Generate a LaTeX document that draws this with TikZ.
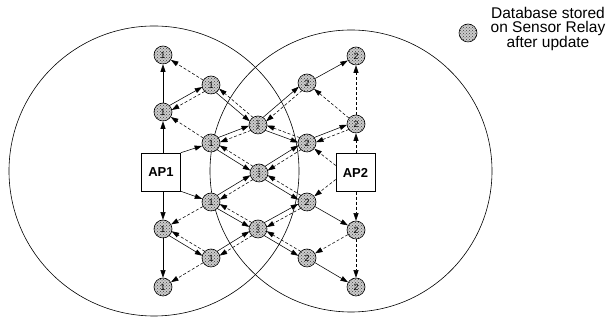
\documentclass[tikz,border=0pt]{standalone}
\usepackage{fontspec}
\setmainfont{Liberation Sans}
\usetikzlibrary{arrows.meta,calc,patterns,backgrounds}

\tikzset{
  relay/.style={circle,draw,line width=0.6pt,minimum size=18pt,inner sep=0pt,
    preaction={fill=gray!40},pattern=crosshatch dots,pattern color=black!75,
    font=\fontsize{9}{9}\selectfont},
  both/.style={relay,align=center,font=\fontsize{6}{5.5}\selectfont},
  ap/.style={draw,fill=white,line width=0.5pt,minimum width=39pt,minimum height=38pt,
    inner sep=0pt,font=\fontsize{13}{13}\selectfont\bfseries},
  fwd/.style={-{Triangle[length=7.5pt,width=5pt]},line width=0.55pt},
  bwd/.style={fwd,dash pattern=on 3pt off 2pt},
  cell/.style={line width=0.6pt}
}

% solid arrow #1->#2 and dashed arrow back, side by side
\newcommand{\twoway}[3]{%
  \draw[fwd,shorten <=8.6pt,shorten >=8.6pt] ($(#1)!2.5pt!#3:(#2)$) -- ($(#2)!2.5pt!-#3:(#1)$);
  \draw[bwd,shorten <=8.6pt,shorten >=8.6pt] ($(#2)!2.5pt!#3:(#1)$) -- ($(#1)!2.5pt!-#3:(#2)$);
}

\begin{document}
\begin{tikzpicture}[x=1pt,y=1pt]
  \useasboundingbox (0,0) rectangle (610,320);

  % column 1
  \node[relay] (a1) at (163,265) {1};
  \node[relay] (a2) at (163,208) {1};
  \node[relay] (a3) at (163,91) {1};
  \node[relay] (a4) at (163,33) {1};
  % column 2
  \node[relay] (b1) at (211,235) {1};
  \node[relay] (b2) at (211,177) {1};
  \node[relay] (b3) at (211,118) {1};
  \node[relay] (b4) at (211,62) {1};
  % column 3 (overlap)
  \node[both] (c1) at (258,195) {1\\2};
  \node[both] (c2) at (259,147) {1\\2};
  \node[both] (c3) at (258,91) {1\\2};
  % column 4
  \node[relay] (d1) at (307,237) {2};
  \node[relay] (d2) at (307,177) {2};
  \node[relay] (d3) at (307,118) {2};
  \node[relay] (d4) at (307,62) {2};
  % column 5
  \node[relay] (e1) at (356,264) {2};
  \node[relay] (e2) at (356,196) {2};
  \node[relay] (e3) at (356,90) {2};
  \node[relay] (e4) at (356,33) {2};

  % access points
  \node[ap] (ap1) at (161,148) {AP1};
  \node[ap] (ap2) at (355.5,147.5) {AP2};

  % legend
  \node[relay] (key) at (468,287) {};
  \node[align=center,font=\fontsize{15.5}{14}\selectfont] (keytext) at (548,291)
    {Database stored\\on Sensor Relay\\after update};

  \begin{scope}[on background layer]
    % coverage
    \draw[cell] (154,149) circle (145);
    \draw[cell] (351,149) circle (141);

    % AP1
    \draw[fwd] (ap1.north -| a2) -- (a2);
    \draw[fwd] (ap1.south -| a3) -- (a3);
    \draw[fwd] (ap1.north east) -- (b2);
    \draw[fwd] (ap1.south east) -- (b3);
    % AP2
    \draw[bwd] (ap2.north -| e2) -- (e2);
    \draw[bwd] (ap2.south -| e3) -- (e3);
    \draw[bwd] ($(ap2.west)+(0,7)$) -- (d2);
    \draw[bwd] ($(ap2.west)+(0,-7)$) -- (d3);

    % left
    \draw[fwd] (a2) -- (a1);
    \draw[bwd] (b1) -- (a1);
    \draw[bwd] (b2) -- (a2);
    \draw[fwd] (a3) -- (a4);
    \draw[bwd] (b3) -- (a3);
    \draw[bwd] (b4) -- (a4);
    \twoway{a2}{b1}{90}
    \twoway{b1}{c1}{270}
    \twoway{b2}{c1}{90}
    \twoway{b2}{c2}{270}
    \twoway{b3}{c2}{90}
    \twoway{b3}{c3}{270}
    \twoway{a3}{b4}{270}
    \twoway{b4}{c3}{90}

    % middle
    \twoway{c1}{d1}{90}
    \twoway{c1}{d2}{270}
    \twoway{c2}{d2}{90}
    \twoway{c2}{d3}{270}
    \twoway{c3}{d3}{90}
    \twoway{c3}{d4}{270}

    % right
    \draw[fwd] (d1) -- (e1);
    \draw[bwd] (e2) -- (d1);
    \draw[bwd] (e2) -- (e1);
    \twoway{d2}{e2}{90}
    \draw[fwd] (d3) -- (e3);
    \draw[bwd] (e3) -- (d4);
    \draw[bwd] (e3) -- (e4);
    \draw[fwd] (d4) -- (e4);
  \end{scope}
\end{tikzpicture}
\end{document}
